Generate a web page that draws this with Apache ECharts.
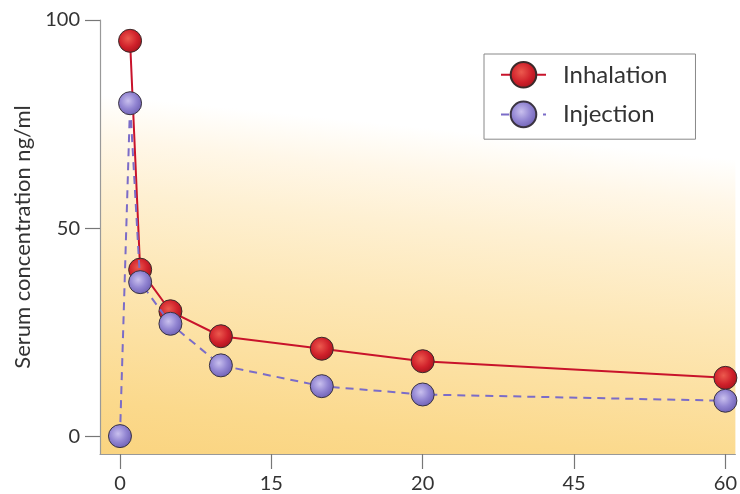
<!DOCTYPE html>
<html>
<head>
<meta charset="utf-8">
<script src="https://cdn.jsdelivr.net/npm/echarts@6/dist/echarts.min.js"></script>
<style>html,body{margin:0;padding:0;background:#fff;}#c{width:740px;height:494px;}</style>
</head>
<body>
<div id="c"></div>
<script>
const times = [0, 1, 2, 5, 10, 20, 30, 60];
const inhalation = [null, 95, 40, 30, 24, 21, 18, 14];
const injection = [0, 80, 37, 27, 17, 12, 10, 8.5];
const xTickValues = [0, 15, 30, 45, 60];
const xTickLabels = ['0', '15', '20', '45', '60'];
const yTickValues = [0, 50, 100];
const yTickLabels = ['0', '50', '100'];

const font = 'Lato';
function pairs(vals) {
  const out = [];
  times.forEach((t, i) => { if (vals[i] !== null) out.push([t, vals[i]]); });
  return out;
}
const redBall = { type: 'radial', x: 0.42, y: 0.4, r: 0.62, colorStops: [{ offset: 0, color: '#ec5a4e' }, { offset: 0.6, color: '#d0212b' }, { offset: 1, color: '#a8141e' }] };
const purpleBall = { type: 'radial', x: 0.42, y: 0.4, r: 0.62, colorStops: [{ offset: 0, color: '#c9c0ee' }, { offset: 0.55, color: '#9285d2' }, { offset: 1, color: '#6e60b4' }] };

const chart = echarts.init(document.getElementById('c'));
chart.setOption({
  animation: false,
  grid: {
    left: 100, right: 3, top: 20, bottom: 39,
    show: true, borderWidth: 0,
    backgroundColor: {
      type: 'linear', x: 0, y: 1, x2: 0.07, y2: 0,
      colorStops: [
        { offset: 0, color: '#fad480' },
        { offset: 0.12, color: '#fbd98c' },
        { offset: 0.42, color: '#fde7b6' },
        { offset: 0.6, color: '#fef0d2' },
        { offset: 0.72, color: '#fff7e8' },
        { offset: 0.82, color: '#ffffff' },
        { offset: 1, color: '#ffffff' }
      ]
    }
  },
  legend: {
    left: 484, top: 54, orient: 'vertical',
    padding: [7, 28, 11, 16],
    backgroundColor: '#fff', borderColor: '#888', borderWidth: 1,
    itemWidth: 45, itemHeight: 32, itemGap: 12,
    textStyle: { fontFamily: font, fontSize: 24, color: '#333', padding: [0, 0, 0, 12] },
    data: ['Inhalation', 'Injection']
  },
  xAxis: {
    type: 'value', min: -1.98, max: 60.99,
    axisLine: { onZero: false, lineStyle: { color: '#999', width: 1.2 } },
    axisTick: { length: 15, customValues: xTickValues, lineStyle: { color: '#777', width: 1.2 } },
    axisLabel: {
      customValues: xTickValues,
      formatter: v => xTickLabels[xTickValues.indexOf(v)],
      fontFamily: font, fontSize: 20, color: '#333', margin: 20
    },
    splitLine: { show: false }
  },
  yAxis: {
    type: 'value', min: -4.3, max: 100,
    name: 'Serum concentration ng/ml', nameLocation: 'middle', nameGap: 64,
    nameTextStyle: { fontFamily: font, fontSize: 22, color: '#333' },
    axisLine: { show: true, onZero: false, lineStyle: { color: '#999', width: 1.2 } },
    axisTick: { show: true, length: 15, customValues: yTickValues, lineStyle: { color: '#777', width: 1.2 } },
    axisLabel: {
      customValues: yTickValues,
      formatter: v => yTickLabels[yTickValues.indexOf(v)],
      fontFamily: font, fontSize: 20, color: '#333', margin: 20
    },
    splitLine: { show: false }
  },
  series: [
    {
      name: 'Inhalation', type: 'line', data: pairs(inhalation),
      symbol: 'circle', symbolSize: 23, showAllSymbol: true,
      lineStyle: { color: '#c8132b', width: 2 },
      itemStyle: { color: redBall, borderColor: '#3a2a2a', borderWidth: 1 },
      z: 3
    },
    {
      name: 'Injection', type: 'line', data: pairs(injection),
      symbol: 'circle', symbolSize: 23, showAllSymbol: true,
      lineStyle: { color: '#7b6cc8', width: 2, type: [8, 6] },
      itemStyle: { color: purpleBall, borderColor: '#3a3340', borderWidth: 1 },
      z: 4
    }
  ]
});
</script>
</body>
</html>
